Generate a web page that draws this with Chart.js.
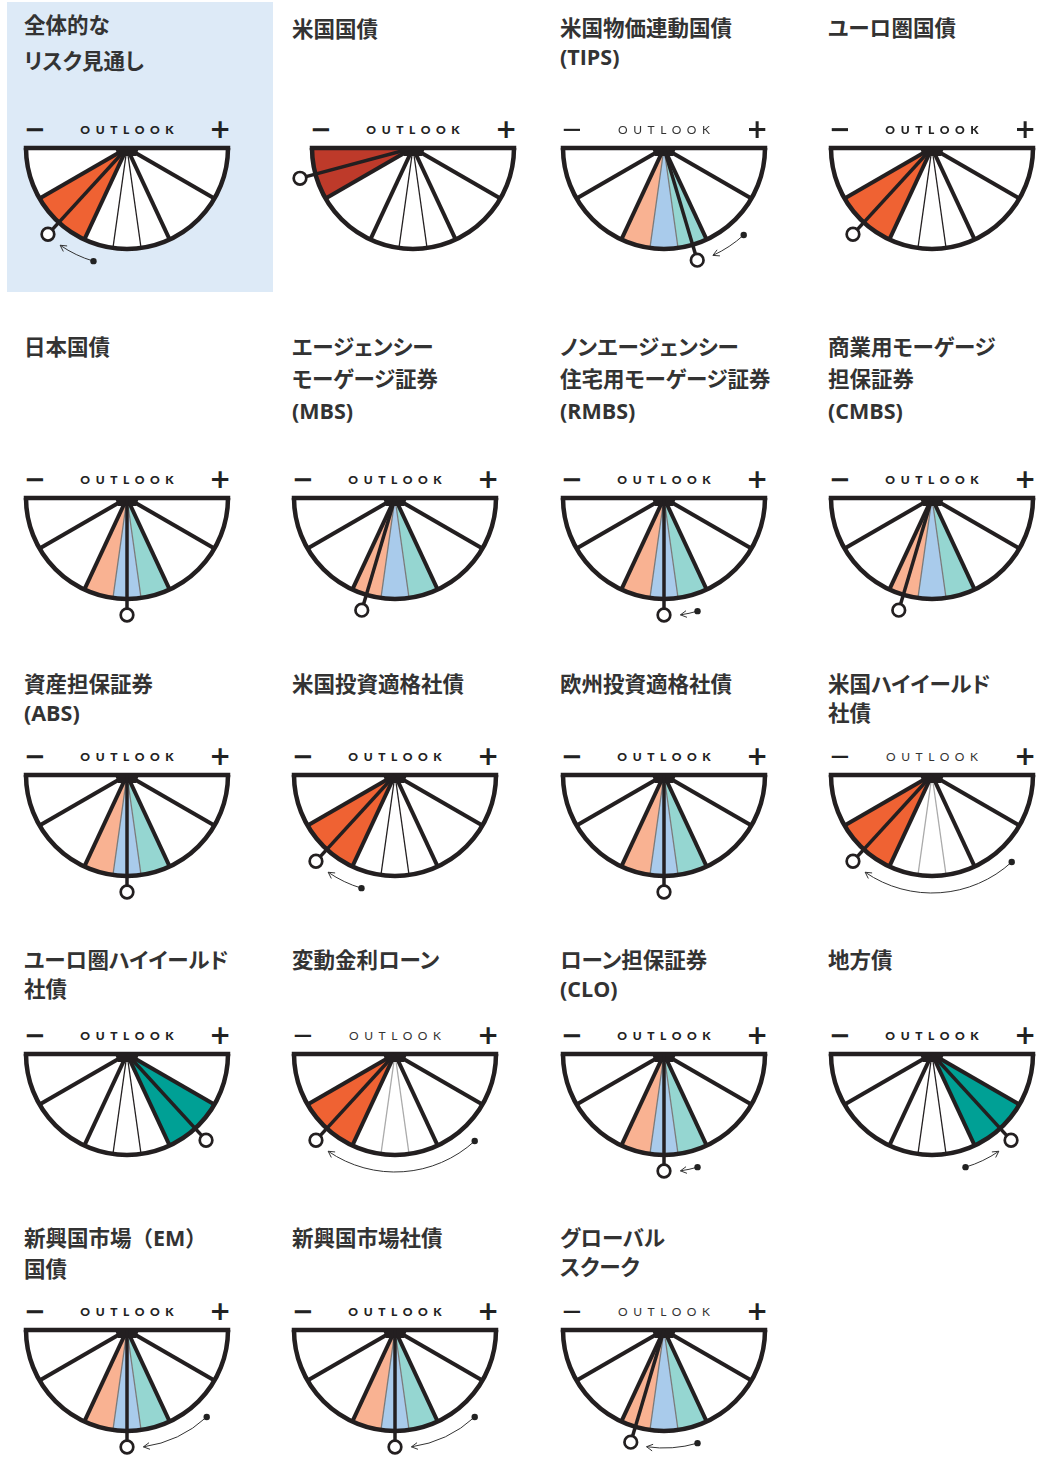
<!DOCTYPE html>
<html lang="ja"><head><meta charset="utf-8">
<script src="https://cdn.jsdelivr.net/npm/chart.js@4.4.1/dist/chart.umd.min.js"></script>
<style>
html,body{margin:0;padding:0;background:#fff;}
#wrap{position:relative;width:1053px;height:1457px;overflow:hidden;background:#fff;}
.panel{position:absolute;left:7px;top:2px;width:266px;height:290px;background:#DDEAF7;}
.title{position:absolute;font-family:"Open Sans","Noto Sans CJK JP",sans-serif;font-weight:700;font-size:21.5px;color:#333;white-space:nowrap;font-feature-settings:"palt";}
.title.nopalt{font-feature-settings:normal;}
.hdr{position:absolute;height:20px;color:#222;}
.hdr .ol{position:absolute;left:0;right:0;top:0;text-align:center;font-family:Lato,"DejaVu Sans",sans-serif;font-size:12px;font-weight:900;letter-spacing:5.6px;padding-left:5.6px;line-height:20px;}
.hdr.light .ol{font-weight:400;color:#333;}
.hdr .mn,.hdr .pl{position:absolute;top:-5px;font-family:"DejaVu Sans",sans-serif;font-weight:700;font-size:26px;line-height:28px;}
.hdr.light .mn{font-weight:400;}
canvas{position:absolute;}
</style></head>
<body><div id="wrap"><div class="panel"></div></div>
<script>
// ---- data ----
const titles = [
 ['全体的な','リスク見通し'],
 ['米国国債'],
 ['米国物価連動国債','(TIPS)'],
 ['ユーロ圏国債'],
 ['日本国債'],
 ['エージェンシー','モーゲージ証券','(MBS)'],
 ['ノンエージェンシー','住宅用モーゲージ証券','(RMBS)'],
 ['商業用モーゲージ','担保証券','(CMBS)'],
 ['資産担保証券','(ABS)'],
 ['米国投資適格社債'],
 ['欧州投資適格社債'],
 ['米国ハイイールド','社債'],
 ['ユーロ圏ハイイールド','社債'],
 ['変動金利ローン'],
 ['ローン担保証券','(CLO)'],
 ['地方債'],
 ['新興国市場（EM）','国債'],
 ['新興国市場社債'],
 ['グローバル','スクーク']
];
const sectorLabels = ['−−','−','中立−','中立','中立+','+','++'];
const sectorSizes = [30, 35, 17, 16, 17, 35, 30];
const stance = [-1,-2,0,-1, 0,0,0,0, 0,-1,0,-1, 1,-1,0,1, 0,0,0];
const needle = [47.5,15,106.5,47.5, 90,73.5,90,73.5, 90,47.5,90,47.5, 132.5,47.5,90,132.5, 90,90,73.5];
const previous = [73.5,null,132.5,null, null,null,106.5,null, null,73.5,null,132.5, null,132.5,106.5,106.5, 132.5,132.5,106.5];
const headerLabel = 'OUTLOOK';

// ---- style / layout ----
const COL = {red:'#BE3A2A', orange:'#EF6233', teal:'#00A095', salmon:'#F9B292', blue:'#A9CBEB', lteal:'#95D6D1', white:'#FFFFFF', ink:'#231F20'};
const colX = [127, 395, 664, 932];
const colTitleX = [24, 292, 560, 828];
const rowY = [148, 498, 775, 1054, 1330];
const titleBox = [ // top, line-height per gauge
  [[7,36],[13.5,30],[12.5,29],[12.5,29]],
  [[331,32],[331,32],[331,32],[331,32]],
  [[668.5,29],[668.5,29],[668.5,29],[668.5,29]],
  [[944.5,29],[944.5,29],[944.5,29],[944.5,29]],
  [[1221.5,31],[1221.5,31],[1223,29],[1221.5,31]]
];
const lightHeader = new Set([2,11,13,18]);
const greyThin = new Set([11,13]);
const noPalt = new Set([16]);

function fillsFor(s){
  const f = sectorSizes.map(()=>COL.white);
  if (s === -2) f[0] = COL.red;
  if (s === -1) f[1] = COL.orange;
  if (s === 0) { f[2] = COL.salmon; f[3] = COL.blue; f[4] = COL.lteal; }
  if (s === 1) f[5] = COL.teal;
  if (s === 2) f[6] = COL.teal;
  return f;
}

const gaugePlugin = {
  id: 'gauge',
  afterDatasetsDraw(chart, args, o) {
    const ctx = chart.ctx;
    const arcs = chart.getDatasetMeta(0).data;
    const first = arcs[0], last = arcs[arcs.length - 1];
    const cx = first.x, cy = first.y, R = first.outerRadius;
    const a0 = first.startAngle, a1 = last.endAngle;
    const total = sectorSizes.reduce((s, v) => s + v, 0);
    const ang = v => a1 - (v / total) * (a1 - a0);
    ctx.save();
    ctx.lineCap = 'butt';
    ctx.strokeStyle = COL.ink;
    // spokes
    const mid = Math.floor(arcs.length / 2);
    for (let i = 0; i < arcs.length - 1; i++) {
      const a = arcs[i].endAngle;
      const thin = (i === mid - 1 || i === mid);
      ctx.beginPath();
      ctx.moveTo(cx, cy);
      ctx.lineTo(cx + Math.cos(a) * R, cy + Math.sin(a) * R);
      ctx.lineWidth = thin ? 1.3 : 4;
      ctx.strokeStyle = thin ? o.thinColor : COL.ink;
      ctx.stroke();
    }
    ctx.strokeStyle = COL.ink;
    // outer arc
    ctx.beginPath();
    ctx.arc(cx, cy, R, a0, a1);
    ctx.lineWidth = 4.5;
    ctx.stroke();
    // top line
    ctx.beginPath();
    ctx.moveTo(cx - R - 2.25, cy);
    ctx.lineTo(cx + R + 2.25, cy);
    ctx.lineWidth = 4.5;
    ctx.stroke();
    // hub
    ctx.fillStyle = COL.ink;
    ctx.beginPath();
    ctx.moveTo(cx - 12, cy); ctx.lineTo(cx + 12, cy);
    ctx.lineTo(cx + 9, cy + 8); ctx.lineTo(cx - 9, cy + 8);
    ctx.closePath(); ctx.fill();
    // needle
    const an = ang(o.needle);
    const rc = R + 16, cr = 6.3;
    ctx.beginPath();
    ctx.moveTo(cx, cy);
    ctx.lineTo(cx + Math.cos(an) * (rc - cr), cy + Math.sin(an) * (rc - cr));
    ctx.lineWidth = 3.5;
    ctx.stroke();
    ctx.beginPath();
    ctx.arc(cx + Math.cos(an) * rc, cy + Math.sin(an) * rc, cr, 0, Math.PI * 2);
    ctx.fillStyle = '#fff'; ctx.fill();
    ctx.lineWidth = 2.7; ctx.stroke();
    // movement arrow
    if (o.prev !== null && o.prev !== undefined) {
      const ra = R + 17;
      const gap = 8;
      const endV = o.prev > o.needle ? o.needle + gap : o.needle - gap;
      const ap = ang(o.prev), ae = ang(endV);
      ctx.strokeStyle = '#333';
      ctx.lineWidth = 1;
      ctx.beginPath();
      ctx.arc(cx, cy, ra, ap, ae, ae < ap);
      ctx.stroke();
      ctx.fillStyle = '#222';
      ctx.beginPath();
      ctx.arc(cx + Math.cos(ap) * ra, cy + Math.sin(ap) * ra, 3.2, 0, Math.PI * 2);
      ctx.fill();
      const tx = cx + Math.cos(ae) * ra, ty = cy + Math.sin(ae) * ra;
      let dx = -Math.sin(ae), dy = Math.cos(ae);
      if (ae < ap) { dx = -dx; dy = -dy; }
      const L = 7, th = 0.5;
      ctx.beginPath();
      for (const s of [th, -th]) {
        const bx = -(dx * Math.cos(s) - dy * Math.sin(s));
        const by = -(dx * Math.sin(s) + dy * Math.cos(s));
        ctx.moveTo(tx, ty);
        ctx.lineTo(tx + bx * L, ty + by * L);
      }
      ctx.stroke();
    }
    ctx.restore();
  }
};

const wrap = document.getElementById('wrap');
const CW = 262, CH = 150, PAD = 30, PTOP = 8, R = (CW - 2 * PAD) / 2;

titles.forEach((lines, i) => {
  const row = Math.floor(i / 4), col = i % 4;
  const cx = (i === 1) ? 413 : colX[col];
  const cy = rowY[row];
  // title
  const t = document.createElement('div');
  t.className = 'title' + (noPalt.has(i) ? ' nopalt' : '');
  const [tt, lh] = titleBox[row][col];
  t.style.left = colTitleX[col] + 'px';
  t.style.top = tt + 'px';
  t.style.lineHeight = lh + 'px';
  t.innerHTML = lines.join('<br>');
  wrap.appendChild(t);
  // header
  const h = document.createElement('div');
  h.className = 'hdr' + (lightHeader.has(i) ? ' light' : '');
  h.style.left = (cx - 104) + 'px';
  h.style.width = '208px';
  h.style.top = (cy - 28) + 'px';
  h.innerHTML = '<span class="mn" style="left:1px">−</span><span class="ol">' + headerLabel + '</span><span class="pl" style="right:0px">+</span>';
  wrap.appendChild(h);
  // chart
  const c = document.createElement('canvas');
  c.width = CW; c.height = CH;
  c.style.left = (cx - CW / 2) + 'px';
  c.style.top = (cy - PTOP) + 'px';
  wrap.appendChild(c);
  const fills = fillsFor(stance[i]);
  new Chart(c, {
    type: 'doughnut',
    data: {
      labels: sectorLabels.slice().reverse(),
      datasets: [{ data: sectorSizes.slice().reverse(), backgroundColor: fills.slice().reverse(), borderWidth: 0, hoverOffset: 0 }]
    },
    options: {
      responsive: false, animation: false, devicePixelRatio: 1,
      rotation: 90, circumference: 180, cutout: 0,
      layout: { padding: { left: PAD, right: PAD, top: PTOP, bottom: CH - PTOP - R } },
      events: [],
      plugins: {
        legend: { display: false }, tooltip: { enabled: false },
        gauge: { needle: needle[i], prev: previous[i], thinColor: stance[i] === 0 ? '#7a7a7a' : (greyThin.has(i) ? '#aaaaaa' : COL.ink) }
      }
    },
    plugins: [gaugePlugin]
  });
});
</script></body></html>
